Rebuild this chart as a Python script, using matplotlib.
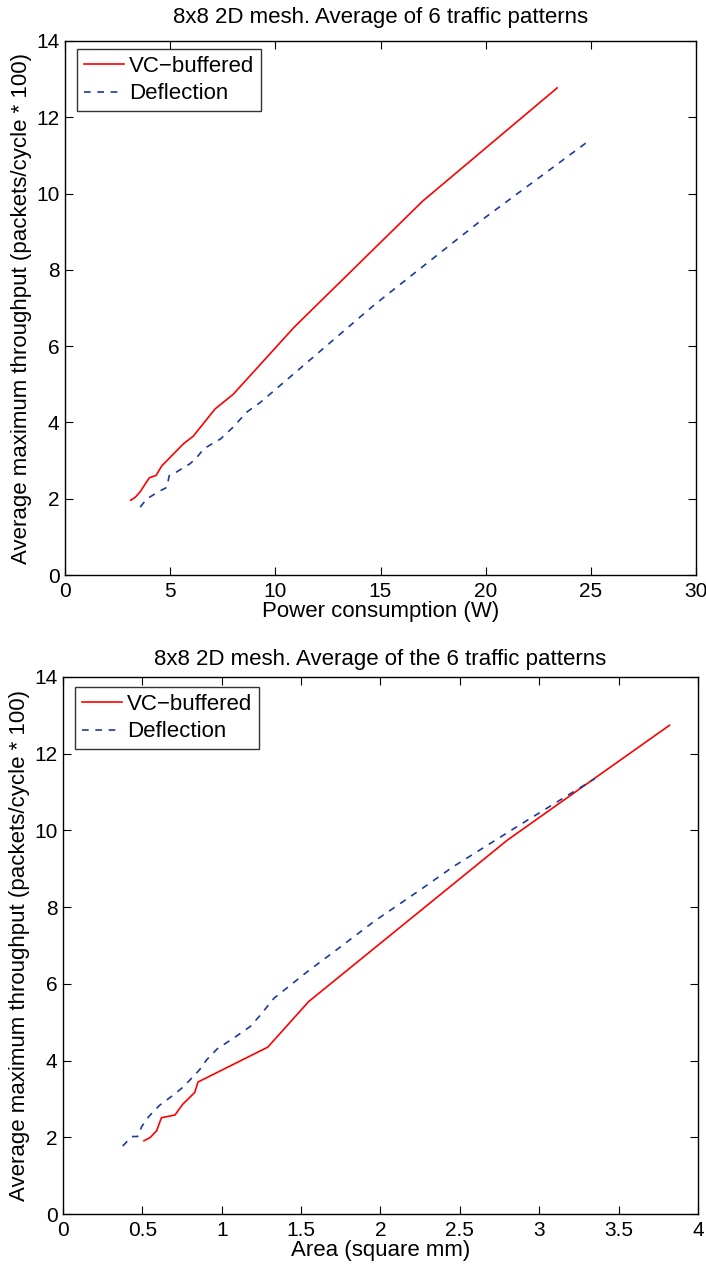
import matplotlib
matplotlib.use("Agg")
import matplotlib.pyplot as plt

plt.rcParams['font.family'] = ['Liberation Sans', 'DejaVu Sans']

# Top chart: throughput vs power
power_vc = [3.12, 3.33, 3.57, 4.01, 4.33, 4.60, 5.63, 6.10, 7.13, 8.0, 9.5, 10.9, 17.0, 23.4]
thr_power_vc = [1.96, 2.03, 2.18, 2.55, 2.61, 2.86, 3.44, 3.64, 4.35, 4.74, 5.65, 6.5, 9.8, 12.77]
power_defl = [3.57, 3.9, 4.5, 4.85, 4.95, 5.3, 5.95, 6.25, 6.6, 7.4, 8.0, 8.64, 9.3, 14.7, 19.7, 24.9]
thr_power_defl = [1.78, 2.0, 2.2, 2.3, 2.6, 2.7, 2.92, 3.07, 3.31, 3.57, 3.88, 4.27, 4.53, 7.08, 9.26, 11.38]

# Bottom chart: throughput vs area
area_vc = [0.51, 0.548, 0.59, 0.62, 0.705, 0.754, 0.83, 0.85, 1.29, 1.548, 2.8, 3.82]
thr_area_vc = [1.91, 1.99, 2.17, 2.51, 2.58, 2.86, 3.17, 3.44, 4.35, 5.54, 9.75, 12.74]
area_defl = [0.376, 0.433, 0.47, 0.496, 0.54, 0.61, 0.695, 0.76, 0.86, 0.905, 0.97, 1.09,
             1.18, 1.24, 1.33, 1.54, 1.75, 1.96, 2.25, 2.46, 2.88, 3.35]
thr_area_defl = [1.77, 2.02, 2.02, 2.28, 2.54, 2.84, 3.1, 3.32, 3.76, 4.02, 4.3, 4.63,
                 4.89, 5.17, 5.63, 6.32, 6.97, 7.63, 8.45, 9.06, 10.15, 11.35]

series_names = ["VC\u2212buffered", "Deflection"]
titles = ["8x8 2D mesh. Average of 6 traffic patterns",
          "8x8 2D mesh. Average of the 6 traffic patterns"]
xlabels = ["Power consumption (W)", "Area (square mm)"]
ylabel = "Average maximum throughput (packets/cycle * 100)"
xticks_top = [0, 5, 10, 15, 20, 25, 30]
xticks_bot = [0, 0.5, 1, 1.5, 2, 2.5, 3, 3.5, 4]
yticks = [0, 2, 4, 6, 8, 10, 12, 14]

W, H = 706, 1268
fig = plt.figure(figsize=(W / 100, H / 100), dpi=100)

ax1 = fig.add_axes([65 / W, 1 - 575 / H, (696 - 65) / W, (575 - 41) / H])
ax2 = fig.add_axes([63 / W, 1 - 1214 / H, (698 - 63) / W, (1214 - 677) / H])

red = '#ff0000'
blue = '#1f3a98'
fs = 16
tfs = 15

def style(ax, xticks, xlim, xlabel, title, title_pad, leg_dx, leg_dy):
    ax.set_xlim(*xlim)
    ax.set_ylim(0, 14)
    ax.set_xticks(xticks)
    ax.set_xticklabels([('%g' % t) for t in xticks])
    ax.set_yticks(yticks)
    ax.tick_params(direction='in', top=True, right=True, labelsize=tfs, length=6, width=0.8)
    ax.tick_params(axis='x', pad=5)
    ax.tick_params(axis='y', pad=4)
    for s in ax.spines.values():
        s.set_linewidth(1.0)
    ax.set_xlabel(xlabel, fontsize=fs, labelpad=0)
    ax.set_ylabel(ylabel, fontsize=fs, labelpad=3)
    ax.set_title(title, fontsize=fs, pad=title_pad)
    bbox = ax.get_position()
    axw = bbox.width * W
    axh = bbox.height * H
    leg = ax.legend(loc='upper left', fontsize=fs, frameon=True, fancybox=False,
                    edgecolor='black', borderpad=0.3, handlelength=1.8, labelspacing=0.3,
                    borderaxespad=0, handletextpad=0.25,
                    bbox_to_anchor=(leg_dx / axw, 1 - leg_dy / axh))
    leg.get_frame().set_linewidth(1.0)

ax1.plot(power_vc, thr_power_vc, color=red, lw=1.2, label=series_names[0])
ax1.plot(power_defl, thr_power_defl, color=blue, lw=1.2, dashes=(4, 4), label=series_names[1])
style(ax1, xticks_top, (0, 30), xlabels[0], titles[0], 13, 12, 8)

ax2.plot(area_vc, thr_area_vc, color=red, lw=1.2, label=series_names[0])
ax2.plot(area_defl, thr_area_defl, color=blue, lw=1.2, dashes=(4, 4), label=series_names[1])
style(ax2, xticks_bot, (0, 4), xlabels[1], titles[1], 9, 12, 10)

fig.savefig("out.png", dpi=100)
